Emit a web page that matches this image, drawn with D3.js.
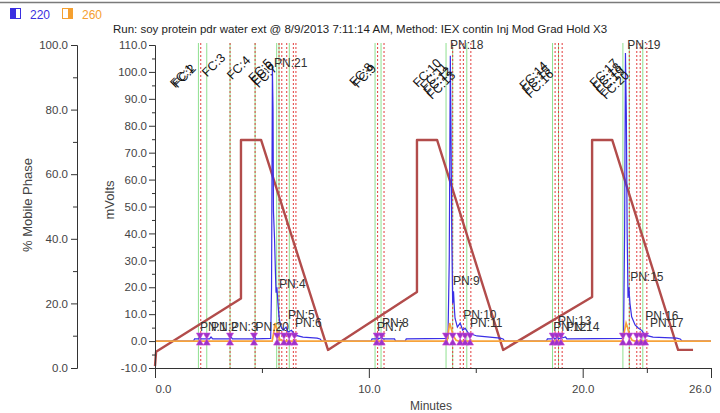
<!DOCTYPE html>
<html>
<head>
<meta charset="utf-8">
<script src="https://cdnjs.cloudflare.com/ajax/libs/d3/7.8.5/d3.min.js"></script>
<style>
body { margin: 0; background: #fff; }
svg text { font-family: "Liberation Sans", Arial, sans-serif; }
</style>
</head>
<body>
<svg id="chart" width="720" height="413"></svg>
<script>
// chromatogram: 220 / 260 channels, gradient, fraction + peak marks

var runTitle = "Run: soy protein pdr water ext @ 8/9/2013 7:11:14 AM, Method: IEX contin Inj Mod Grad Hold X3";
var minuteTicks = [0, 10, 20, 26];
var minuteMinor = [5, 15, 23];
var mvTicks = d3.range(-10, 111, 10);
var mvMinor = d3.range(-5, 110, 10);
var pctTicks = [0, 20, 40, 60, 80, 100];
var pctMinor = [10, 30, 50, 70, 90];

// % mobile phase gradient [minutes, %]
var gradient = [[0, 0.6], [0.05, 5.0], [4.02, 21.5], [4.02, 70.6], [4.96, 70.6], [8.09, 5.6],
  [12.25, 23.5], [12.25, 70.6], [13.19, 70.6], [16.28, 5.6], [20.44, 22], [20.44, 70.6],
  [21.38, 70.6], [24.46, 5.6], [25.16, 5.6]];

// 220 nm trace [minutes, mV]
var trace220 = [[0, 0], [1.8, 0], [1.85, 0.8], [2.05, 0.8], [2.1, 1.8], [2.15, 0.8], [2.55, 0.8], [2.62, 1.5],
  [2.7, 0.8], [3.5, 0.8], [3.56, 1.5], [3.62, 0.8], [4.6, 0.8], [4.66, 1.6], [4.72, 0.8], [5.41, 1.0],
  [5.45, 20], [5.49, 102], [5.52, 86], [5.54, 48], [5.59, 38], [5.63, 26], [5.66, 18], [5.70, 20],
  [5.75, 14], [5.80, 9], [5.85, 6.5], [5.92, 5.0], [5.99, 4.0], [6.13, 5.2], [6.22, 3.3], [6.38, 4.0],
  [6.55, 2.2], [6.92, 1.5], [7.58, 1.1], [7.72, 0.8], [7.8, 0],
  [10.1, 0], [10.15, 0.8], [10.36, 0.8], [10.4, 1.6], [10.45, 0.8], [10.6, 1.4], [10.66, 0.8], [11.2, 0.8],
  [11.25, 0], [11.7, 0], [11.75, 0.8], [13.70, 1.0], [13.76, 30], [13.81, 106], [13.84, 80], [13.88, 38],
  [13.92, 14], [13.96, 18.5], [14.00, 12], [14.03, 8.5], [14.14, 5.2], [14.27, 6.7], [14.39, 4.0],
  [14.50, 4.8], [14.65, 3.0], [15.05, 1.9], [16.14, 1.1], [16.28, 0.8], [16.35, 0],
  [18.3, 0], [18.35, 0.8], [18.58, 0.8], [18.62, 1.8], [18.68, 0.8], [18.82, 1.4], [18.88, 0.8], [19.2, 1.5],
  [19.26, 0.8], [21.91, 1.0], [21.96, 40], [22.00, 107], [22.04, 85], [22.08, 40], [22.12, 16],
  [22.16, 20], [22.21, 14], [22.29, 9], [22.45, 6], [22.61, 4.8], [22.76, 4.0], [22.92, 2.2],
  [23.29, 1.5], [24.40, 1.1], [24.56, 0.8], [24.65, 0], [26, 0]];

// 260 nm trace [minutes, mV]
var trace260 = [[0, 0], [5.48, 0], [5.57, 4], [5.61, 6.7], [5.68, 5], [5.75, 2], [5.85, 0.5], [5.99, 0],
  [13.66, 0], [13.73, 4], [13.78, 6.7], [13.84, 5], [13.94, 2], [14.08, 0.3], [14.2, 0],
  [21.85, 0], [21.96, 4], [22.03, 6.7], [22.10, 5], [22.19, 2], [22.31, 0.3], [22.45, 0], [26, 0]];

// fraction collector marks (minutes)
var fracStart = [2.03, 2.42, 3.51, 4.68, 5.69, 5.80, 6.28, 10.29, 10.57, 13.61, 13.92, 14.58,
  18.59, 18.87, 21.88, 22.18, 22.81];
var fracEnd = [2.14, 3.51, 4.68, 5.80, 5.93, 6.16, 6.47, 6.59, 10.41, 10.71, 13.92, 14.27, 14.42, 14.77,
  18.71, 18.87, 19.04, 22.18, 22.53, 22.69, 23.00];

var fcNames = d3.range(1, 21).map(function(i) { return "FC:" + i; });
var fcTimes = [2.03, 2.14, 3.51, 4.68, 5.69, 5.80, 5.93, 10.41, 10.57, 13.61, 13.92, 14.10, 14.27,
  18.59, 18.71, 18.87, 21.88, 22.03, 22.18, 22.40];
var fcLevels = [101, 101, 105, 104, 103, 102, 101, 101.5, 101, 103, 101.5, 100, 98.5,
  102, 100.5, 99, 103, 101.5, 100, 98.5];

var pnNames = ["PN:1", "PN:2", "PN:3", "PN:20", "PN:21", "PN:4", "PN:5", "PN:6", "PN:7", "PN:8",
  "PN:18", "PN:9", "PN:10", "PN:11", "PN:12", "PN:13", "PN:14", "PN:19", "PN:15", "PN:16", "PN:17"];
var pnTimes = [2.10, 2.62, 3.55, 4.70, 5.57, 5.80, 6.22, 6.55, 10.38, 10.62,
  13.80, 13.94, 14.41, 14.73, 18.62, 18.85, 19.22, 22.08, 22.22, 22.92, 23.15];
var pnLevels = [3.7, 3.7, 3.7, 3.7, 101.9, 19.7, 8.2, 5.2, 3.7, 5.2,
  108.5, 20.8, 8.2, 5.2, 3.7, 5.9, 3.7, 108.5, 22.3, 7.8, 5.2];

// peak start / end marks (minutes)
var peakMarks = [2.10, 2.42, 3.51, 4.63, 5.71, 6.03, 6.27, 6.52,
  10.37, 10.60, 13.61, 13.92, 14.27, 14.50, 14.73,
  18.60, 18.79, 18.98, 21.88, 22.18, 22.53, 22.73, 22.92];

var svg = d3.select('#chart');
var x = d3.scaleLinear().domain([0, 26]).range([155, 711]);
var yMv = d3.scaleLinear().domain([-10, 110]).range([368, 45]);
var yPct = d3.scaleLinear().domain([0, 100]).range([368, 45]);
var fmt = function(d) { return d.toFixed(1); };

// window frame line
svg.append('line').attr('x1', 0).attr('x2', 720).attr('y1', 2.5).attr('y2', 2.5)
  .attr('stroke', '#7a7a7a').attr('stroke-width', 1.5);

// legend
var legend = [{name: '220', color: '#3a2fe0', x: 10, half: 'left'}, {name: '260', color: '#f5a030', x: 62, half: 'right'}];
var lg = svg.selectAll('.lg').data(legend).enter().append('g').attr('class', 'lg');
lg.append('rect').attr('x', function(d) { return d.x + 0.5; }).attr('y', 8.5).attr('width', 10).attr('height', 10)
  .attr('fill', 'white').attr('stroke', function(d) { return d.color; });
lg.append('rect').attr('x', function(d) { return d.half == 'left' ? d.x + 1 : d.x + 6; }).attr('y', 9)
  .attr('width', 5).attr('height', 9).attr('fill', function(d) { return d.color; });
lg.append('text').attr('x', function(d) { return d.x + 20; }).attr('y', 18.5)
  .style('font-size', '12px').attr('fill', function(d) { return d.color; }).text(function(d) { return d.name; });

svg.append('text').attr('x', 360).attr('y', 33).attr('text-anchor', 'middle')
  .style('font-size', '11.5px').attr('fill', '#222').text(runTitle);

// fraction lines
svg.selectAll('.fs').data(fracStart).enter().append('line').attr('class', 'fs')
  .attr('x1', function(d) { return x(d); }).attr('x2', function(d) { return x(d); })
  .attr('y1', 43).attr('y2', 368).attr('stroke', '#8fe08f').attr('stroke-width', 1);
svg.selectAll('.fe').data(fracEnd).enter().append('line').attr('class', 'fe')
  .attr('x1', function(d) { return x(d); }).attr('x2', function(d) { return x(d); })
  .attr('y1', 43).attr('y2', 368).attr('stroke', '#e23c3c').attr('stroke-width', 1)
  .attr('stroke-dasharray', '2,2');

// gradient
svg.append('path').datum(gradient)
  .attr('d', d3.line().x(function(d) { return x(d[0]); }).y(function(d) { return yPct(d[1]); }))
  .attr('fill', 'none').attr('stroke', '#b24c4b').attr('stroke-width', 2.4).attr('stroke-linejoin', 'round');

var mvLine = d3.line().x(function(d) { return x(d[0]); }).y(function(d) { return yMv(d[1]); });
svg.append('path').datum(trace220).attr('d', mvLine)
  .attr('fill', 'none').attr('stroke', '#3a2fe6').attr('stroke-width', 1.2);
svg.append('path').datum(trace260).attr('d', mvLine)
  .attr('fill', 'none').attr('stroke', '#f7a33a').attr('stroke-width', 1.7);

// peak marks (bowtie)
svg.selectAll('.pm').data(peakMarks).enter().append('path').attr('class', 'pm')
  .attr('transform', function(d) { return 'translate(' + x(d) + ',' + (yMv(0) - 2) + ')'; })
  .attr('d', 'M-3.5,-6L3.5,-6L0,0ZM0,0L-3.5,6L3.5,6Z')
  .attr('fill', '#9a34c8').attr('stroke', '#d040d8').attr('stroke-width', 0.6);

// FC labels
svg.selectAll('.fcl').data(fcNames).enter().append('text').attr('class', 'fcl')
  .attr('transform', function(d, i) { return 'translate(' + (x(fcTimes[i]) - 4) + ',' + yMv(fcLevels[i]) + ') rotate(-45)'; })
  .attr('text-anchor', 'end').style('font-size', '12.5px').attr('fill', '#111').text(function(d) { return d; });

// PN labels
svg.selectAll('.pnl').data(pnNames).enter().append('text').attr('class', 'pnl')
  .attr('x', function(d, i) { return x(pnTimes[i]); }).attr('y', function(d, i) { return yMv(pnLevels[i]); })
  .style('font-size', '12px').attr('fill', '#333').text(function(d) { return d; });

// axes
function styleAxis(g) {
  g.selectAll('path, line').attr('stroke', '#333');
  g.selectAll('text').attr('fill', '#444').style('font-size', '11.5px');
}
svg.append('g').attr('transform', 'translate(77,0)')
  .call(d3.axisLeft(yPct).tickValues(pctTicks).tickFormat(fmt).tickSize(6).tickSizeOuter(0).tickPadding(3)).call(styleAxis);
svg.append('g').attr('transform', 'translate(77,0)')
  .call(d3.axisLeft(yPct).tickValues(pctMinor).tickFormat('').tickSize(4).tickSizeOuter(0)).call(styleAxis);
svg.append('g').attr('transform', 'translate(155,0)')
  .call(d3.axisLeft(yMv).tickValues(mvTicks).tickFormat(fmt).tickSize(6).tickSizeOuter(0).tickPadding(2)).call(styleAxis);
svg.append('g').attr('transform', 'translate(155,0)')
  .call(d3.axisLeft(yMv).tickValues(mvMinor).tickFormat('').tickSize(3).tickSizeOuter(0)).call(styleAxis);
var xg = svg.append('g').attr('transform', 'translate(0,368)')
  .call(d3.axisBottom(x).tickValues(minuteTicks).tickFormat(fmt).tickSize(10).tickSizeOuter(0).tickPadding(7)).call(styleAxis);
xg.selectAll('.tick text').attr('text-anchor', function(d, i) { return i == 0 ? 'start' : (i == minuteTicks.length - 1 ? 'end' : 'middle'); });
svg.append('g').attr('transform', 'translate(0,368)')
  .call(d3.axisBottom(x).tickValues(minuteMinor).tickFormat('').tickSize(5).tickSizeOuter(0)).call(styleAxis);

svg.append('text').attr('transform', 'translate(32,205) rotate(-90)').attr('text-anchor', 'middle')
  .style('font-size', '13px').attr('fill', '#444').text('% Mobile Phase');
svg.append('text').attr('transform', 'translate(114,200) rotate(-90)').attr('text-anchor', 'middle')
  .style('font-size', '13px').attr('fill', '#444').text('mVolts');
svg.append('text').attr('x', 431).attr('y', 410).attr('text-anchor', 'middle')
  .style('font-size', '12px').attr('fill', '#444').text('Minutes');
</script>
</body>
</html>
